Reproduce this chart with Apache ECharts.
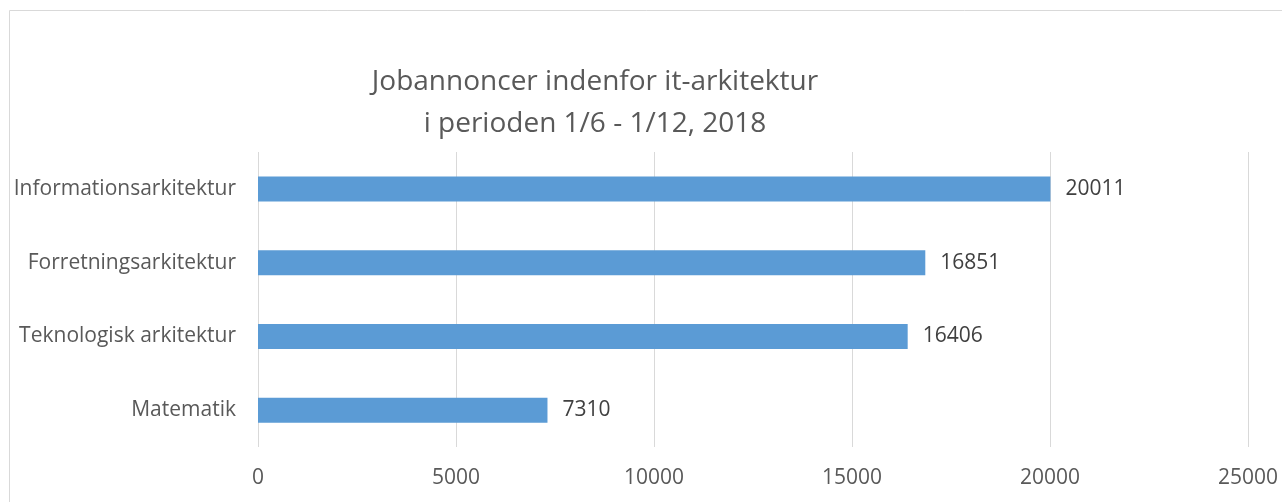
<!DOCTYPE html>
<html><head><meta charset="utf-8">
<script src="https://cdn.jsdelivr.net/npm/echarts@6/dist/echarts.min.js"></script>
<style>html,body{margin:0;padding:0;background:#fff}#c{width:1282px;height:502px}</style>
</head><body><div id="c"></div>
<script>
var categories = ['Matematik', 'Teknologisk arkitektur', 'Forretningsarkitektur', 'Informationsarkitektur'];
var values = [7310, 16406, 16851, 20011];
var titleLines = ['Jobannoncer indenfor it-arkitektur', 'i perioden 1/6 - 1/12, 2018'];

var FONT = 'Open Sans';
var chart = echarts.init(document.getElementById('c'), null, {renderer: 'canvas'});
chart.setOption({
  animation: false,
  textStyle: {fontFamily: FONT},
  graphic: [{type: 'rect', shape: {x: 9.5, y: 10.5, width: 1300, height: 520}, style: {fill: 'none', stroke: '#d9d9d9', lineWidth: 1}, silent: true}],
  title: {
    text: titleLines.join('\n'), left: 590, top: 56, textAlign: 'center',
    textStyle: {fontFamily: FONT, fontSize: 28, fontWeight: 'normal', color: '#595959', lineHeight: 42}
  },
  grid: {left: 258, right: 34, top: 152, height: 295, containLabel: false},
  xAxis: {
    type: 'value', min: 0, max: 25000, interval: 5000,
    axisLine: {show: false}, axisTick: {show: false},
    splitLine: {lineStyle: {color: '#d9d9d9', width: 1}},
    axisLabel: {color: '#595959', fontSize: 21, fontFamily: FONT, margin: 21, formatter: function (v) { return String(v); }}
  },
  yAxis: {
    type: 'category', data: categories,
    axisLine: {show: false}, axisTick: {show: false},
    axisLabel: {color: '#595959', fontSize: 21, fontFamily: FONT, margin: 22}
  },
  series: [{
    type: 'bar', data: values, barWidth: 25,
    itemStyle: {color: '#5b9bd5'},
    label: {show: true, position: 'right', distance: 15, color: '#404040', fontSize: 21, fontFamily: FONT}
  }]
});
</script></body></html>
